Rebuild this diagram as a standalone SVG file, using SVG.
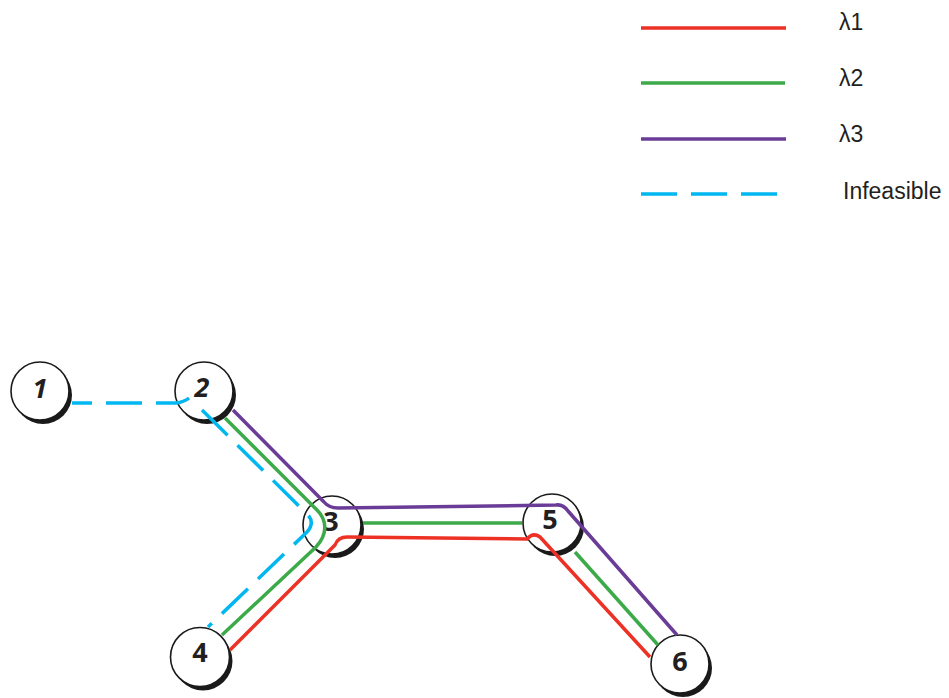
<svg xmlns="http://www.w3.org/2000/svg" width="949" height="698" viewBox="0 0 949 698">
<style>
.sh{fill:#1a1a1a}
.nd{fill:#fff;stroke:#1a1a1a;stroke-width:1.6}
.lb{font-family:"Open Sans","Liberation Sans",sans-serif;font-weight:bold;font-size:27px;fill:#231f20;text-anchor:middle}
.it{font-style:italic}
.ln{fill:none;stroke-width:3.5;stroke-linejoin:round;stroke-linecap:butt}
.r{stroke:#ED3124}.g{stroke:#3DAA49}.p{stroke:#6A3C97}.c{stroke:#00B7EF;stroke-dasharray:36 14}
.lg{font-family:"Liberation Sans",Arial,sans-serif;font-size:23px;fill:#231f20}
</style>
<rect width="949" height="698" fill="#fff"/>
<g id="legend">
<line class="ln r" x1="641" y1="28" x2="786" y2="28" stroke-width="4.5"/>
<text class="lg" x="839" y="30">λ1</text>
<line class="ln g" x1="641" y1="83" x2="785" y2="83" stroke-width="4.5"/>
<text class="lg" x="839" y="86">λ2</text>
<line class="ln p" x1="641" y1="139" x2="786" y2="139" stroke-width="4.5"/>
<text class="lg" x="839" y="142">λ3</text>
<line class="ln c" x1="641" y1="194" x2="780" y2="194" stroke-width="4.5" stroke-dasharray="35 15"/>
<text class="lg" x="843" y="199" font-size="24.5">Infeasible</text>
</g>
<g id="node1"><circle class="sh" cx="43" cy="395" r="29"/><circle class="nd" cx="40" cy="391" r="29"/><text class="lb it" x="40" y="398">1</text></g>
<g id="node2"><circle class="sh" cx="207" cy="395" r="29"/><circle class="nd" cx="204" cy="391" r="29"/><text class="lb it" x="202" y="397">2</text></g>
<g id="node3"><circle class="sh" cx="335" cy="529" r="29"/><circle class="nd" cx="332" cy="525" r="29"/><text class="lb" x="331" y="531">3</text></g>
<g id="node4"><circle class="sh" cx="203" cy="661" r="29.5"/><circle class="nd" cx="200" cy="657" r="29.5"/><text class="lb" x="200" y="662">4</text></g>
<g id="node5"><circle class="sh" cx="555" cy="527" r="29"/><circle class="nd" cx="552" cy="523" r="29"/><text class="lb" x="550" y="529">5</text></g>
<g id="node6"><circle class="sh" cx="683" cy="668" r="29"/><circle class="nd" cx="680" cy="664" r="29"/><text class="lb" x="680" y="671">6</text></g>
<g id="connectors">
<path class="ln c" stroke-dashoffset="16" d="M72,403 L176,403 Q184,402 189,398"/>
<path class="ln c" d="M202,410 L308,515 Q315,523 307,532 L208,627"/>
<path class="ln g" d="M225,418 L317,510 C326,519 329,533 316,547 L222,635"/>
<path class="ln g" d="M363,523 L522,523"/>
<path class="ln g" d="M575,552 L658,645"/>
<path class="ln p" d="M233,410 L324,502 Q329,508 338,508 L556,505 Q563,504 568,511 L677,635"/>
<path class="ln r" d="M230,650 L335,545 Q338,537 347,537 L527,539 Q533,532 540,537 L650,657"/>
</g>
</svg>
